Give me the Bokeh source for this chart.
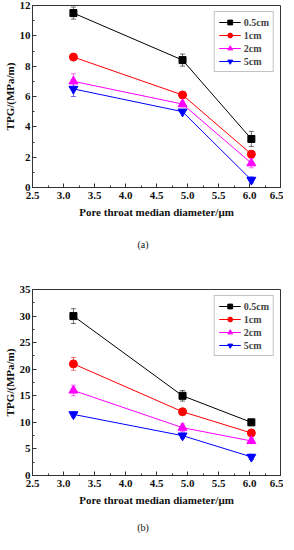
from bokeh.plotting import figure
from bokeh.layouts import column
from bokeh.models import (ColumnDataSource, Whisker, TeeHead, Range1d, Div,
                          SingleIntervalTicker, NumeralTickFormatter, Legend)
from bokeh.embed import file_html
from bokeh.resources import INLINE

# ---- data ----
diameter = [3.16, 4.92, 6.03]
series_labels = ["0.5cm", "1cm", "2cm", "5cm"]

tpg_a_05 = [11.5, 8.4, 3.2]
tpg_a_1 = [8.6, 6.1, 2.2]
tpg_a_2 = [7.0, 5.5, 1.6]
tpg_a_5 = [6.5, 5.0, 0.5]
err_a_05 = [0.4, 0.4, 0.5]
err_a_1 = [0.2, 0.2, 0.2]
err_a_2 = [0.5, 0.2, 0.3]
err_a_5 = [0.5, 0.1, 0.2]

tpg_b_05 = [30.0, 15.0, 10.0]
tpg_b_1 = [21.0, 12.0, 8.0]
tpg_b_2 = [16.0, 9.0, 6.5]
tpg_b_5 = [11.5, 7.5, 3.5]
err_b_05 = [1.4, 1.0, 0.5]
err_b_1 = [1.2, 0.5, 0.5]
err_b_2 = [1.0, 0.7, 0.5]
err_b_5 = [0.5, 0.5, 0.5]

x_title = "Pore throat median diameter/\u03bcm"
y_title = "TPG/(MPa/m)"
captions = ["(a)", "(b)"]

colors = ["#000000", "#ff0000", "#ff00ff", "#0000ff"]
markers = ["square", "circle", "triangle", "inverted_triangle"]
msizes = [7, 8, 9, 9]
FONT = "Liberation Serif"


def make_fig(values, errors, ymax, yint, fheight, btop, bbottom):
    p = figure(frame_width=248, frame_height=fheight, output_backend="svg", toolbar_location=None,
               x_range=Range1d(2.5, 6.5), y_range=Range1d(0, ymax),
               min_border_left=27, min_border_right=3,
               min_border_top=btop, min_border_bottom=bbottom)
    p.xgrid.visible = False
    p.ygrid.visible = False
    p.outline_line_color = "#333333"
    p.outline_line_width = 1

    p.xaxis.ticker = SingleIntervalTicker(interval=0.5, num_minor_ticks=2)
    p.yaxis.ticker = SingleIntervalTicker(interval=yint, num_minor_ticks=2)
    p.xaxis.formatter = NumeralTickFormatter(format="0.0")
    p.yaxis.formatter = NumeralTickFormatter(format="0")
    for ax in (p.xaxis, p.yaxis):
        ax.major_tick_in = 4
        ax.major_tick_out = 0
        ax.minor_tick_in = 2
        ax.minor_tick_out = 0
        ax.axis_line_color = "#333333"
        ax.major_tick_line_color = "#333333"
        ax.minor_tick_line_color = "#333333"
        ax.major_label_text_font = FONT
        ax.major_label_text_font_style = "bold"
        ax.major_label_text_font_size = "11px"
        ax.major_label_text_color = "#111111"
        ax.axis_label_text_font = FONT
        ax.axis_label_text_font_style = "bold"
        ax.axis_label_text_font_size = "11px"
        ax.axis_label_text_color = "#111111"
    p.xaxis.axis_label = x_title
    p.yaxis.axis_label = y_title
    p.xaxis.major_label_standoff = 4
    p.yaxis.major_label_standoff = 2
    p.xaxis.axis_label_standoff = 4
    p.yaxis.axis_label_standoff = 1

    items = []
    for lab, vals, errs, col, mk, ms in zip(series_labels, values, errors, colors, markers, msizes):
        src = ColumnDataSource(dict(x=diameter, y=vals,
                                    upper=[v + e for v, e in zip(vals, errs)],
                                    lower=[v - e for v, e in zip(vals, errs)]))
        w = Whisker(base="x", upper="upper", lower="lower", source=src, dimension="height",
                    line_color=col, line_alpha=0.55, line_width=1,
                    upper_head=TeeHead(size=5, line_color=col, line_alpha=0.55),
                    lower_head=TeeHead(size=5, line_color=col, line_alpha=0.55))
        p.add_layout(w)
        r1 = p.line("x", "y", source=src, line_color=col, line_width=1)
        r2 = p.scatter("x", "y", source=src, marker=mk, size=ms, fill_color=col, line_color=col)
        items.append((lab, [r1, r2]))

    leg = Legend(items=items, location="top_right")
    leg.label_text_font = FONT
    leg.label_text_font_style = "bold"
    leg.label_text_font_size = "10px"
    leg.label_height = 12
    leg.glyph_height = 12
    leg.glyph_width = 22
    leg.label_standoff = 3
    leg.spacing = 1
    leg.padding = 4
    leg.margin = 6
    leg.border_line_color = "#888888"
    leg.border_line_width = 1
    leg.background_fill_alpha = 1
    p.add_layout(leg, "center")
    return p


def make_caption(text, height, line_h):
    return Div(text=text, width=286, height=height, margin=(0, 0, 0, 0),
               styles={"font-family": FONT, "font-size": "10px", "text-align": "center",
                       "line-height": f"{line_h}px", "color": "#111111", "width": "286px"})


p1 = make_fig([tpg_a_05, tpg_a_1, tpg_a_2, tpg_a_5],
              [err_a_05, err_a_1, err_a_2, err_a_5],
              12, 2, 182, 5, 40)
c1 = make_caption(captions[0], 31, 36)
p2 = make_fig([tpg_b_05, tpg_b_1, tpg_b_2, tpg_b_5],
              [err_b_05, err_b_1, err_b_2, err_b_5],
              35, 5, 186, 31, 40)
c2 = make_caption(captions[1], 19, 26)

layout = column(p1, c1, p2, c2, spacing=0)
open("out.html", "w").write(file_html(layout, INLINE))
